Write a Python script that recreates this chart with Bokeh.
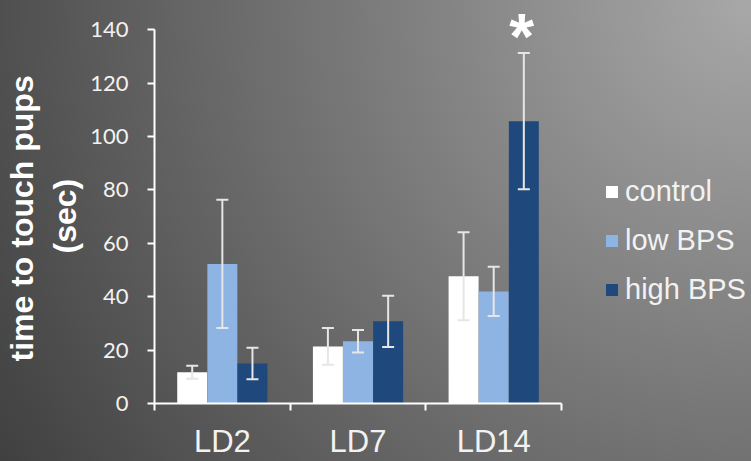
from bokeh.plotting import figure
from bokeh.models import (Range1d, FixedTicker, Legend, LegendItem, Whisker,
                          ColumnDataSource, TeeHead, Label, Title)
from bokeh.embed import file_html
from bokeh.resources import INLINE

categories = ["LD2", "LD7", "LD14"]
series = ["control", "low BPS", "high BPS"]
control = [11.7, 21.4, 47.7]
control_err = [2.4, 6.9, 16.5]
low_bps = [52.3, 23.3, 42.0]
low_bps_err = [24.0, 4.2, 9.2]
high_bps = [15.0, 30.8, 105.8]
high_bps_err = [5.9, 9.6, 25.5]
y_ticks = [0, 20, 40, 60, 80, 100, 120, 140]
y_title_lines = ["time to touch pups", "(sec)"]
star_text = "*"

colors = ["#ffffff", "#8eb4e3", "#1f497d"]
offsets = [-0.222, 0.0, 0.222]
bar_w = 0.221
err_color = "#e6e6e6"

p = figure(width=751, height=461, x_range=Range1d(0, 4.40), y_range=Range1d(0, 151),
           output_backend="svg", toolbar_location=None,
           min_border_left=154, min_border_right=0, min_border_top=0, min_border_bottom=55)
p.styles = {"background": "radial-gradient(circle farthest-corner at 100% 0%, #a8a8a8 0%, #404040 100%)"}
p.border_fill_color = None
p.background_fill_color = None
p.outline_line_color = None
p.xgrid.grid_line_color = None
p.ygrid.grid_line_color = None

items = []
for vals, errs, name, col, off in zip([control, low_bps, high_bps],
                                      [control_err, low_bps_err, high_bps_err],
                                      series, colors, offsets):
    xs = [i + 0.5 + off for i in range(len(categories))]
    src = ColumnDataSource(dict(x=xs, top=vals,
                                upper=[v + e for v, e in zip(vals, errs)],
                                lower=[v - e for v, e in zip(vals, errs)]))
    r = p.vbar(x="x", top="top", width=bar_w, source=src, fill_color=col, line_color=None)
    w = Whisker(source=src, base="x", upper="upper", lower="lower", dimension="height",
                line_color=err_color, line_width=2, level="overlay",
                upper_head=TeeHead(size=12, line_color=err_color, line_width=2),
                lower_head=TeeHead(size=12, line_color=err_color, line_width=2))
    p.add_layout(w)
    items.append(LegendItem(label=name, renderers=[r]))

star = Label(x=2 + 0.5 + offsets[2], y=151, text=star_text, text_align="center",
             text_baseline="top", text_font="Liberation Sans", text_font_style="bold",
             text_font_size="64px", text_color="white", x_offset=-2)
p.add_layout(star)

# y axis title as two stacked left-side titles (second line closest to the axis)
for line, off, so in zip(reversed(y_title_lines), [150, 42], [9, 2]):
    t = Title(text=line, align="left", offset=off, standoff=so,
              text_font="Liberation Sans", text_font_style="bold",
              text_font_size="32px", text_color="white")
    p.add_layout(t, "left")

# y axis
ya = p.yaxis[0]
ya.ticker = FixedTicker(ticks=y_ticks)
ya.bounds = (0, 140)
ya.axis_line_color = "white"
ya.axis_line_width = 2
ya.major_tick_line_color = "white"
ya.major_tick_line_width = 2
ya.major_tick_out = 7
ya.major_tick_in = 0
ya.minor_tick_line_color = None
ya.major_label_standoff = 19
ya.major_label_text_font = "Lato"
ya.major_label_text_font_size = "22px"
ya.major_label_text_color = "#f2f2f2"

# x axis
xa = p.xaxis[0]
xa.ticker = FixedTicker(ticks=[i + 0.5 for i in range(len(categories))],
                        minor_ticks=list(range(len(categories) + 1)))
xa.major_label_overrides = {i + 0.5: c for i, c in enumerate(categories)}
xa.bounds = (0, len(categories))
xa.axis_line_color = "white"
xa.axis_line_width = 2
xa.major_tick_line_color = None
xa.major_tick_out = 0
xa.major_tick_in = 0
xa.minor_tick_line_color = "white"
xa.minor_tick_line_width = 2
xa.minor_tick_out = 7
xa.minor_tick_in = 0
xa.major_label_standoff = 13
xa.major_label_text_font = "Liberation Sans"
xa.major_label_text_font_size = "31px"
xa.major_label_text_color = "#f2f2f2"

legend = Legend(items=items, location=(450, 97), orientation="vertical",
                background_fill_alpha=0, border_line_color=None, padding=0, margin=0,
                spacing=16, glyph_width=15, glyph_height=15, label_standoff=6,
                label_text_font="Liberation Sans", label_text_font_size="29px",
                label_text_color="#f2f2f2")
p.add_layout(legend)

open("out.html", "w").write(file_html(p, INLINE))
